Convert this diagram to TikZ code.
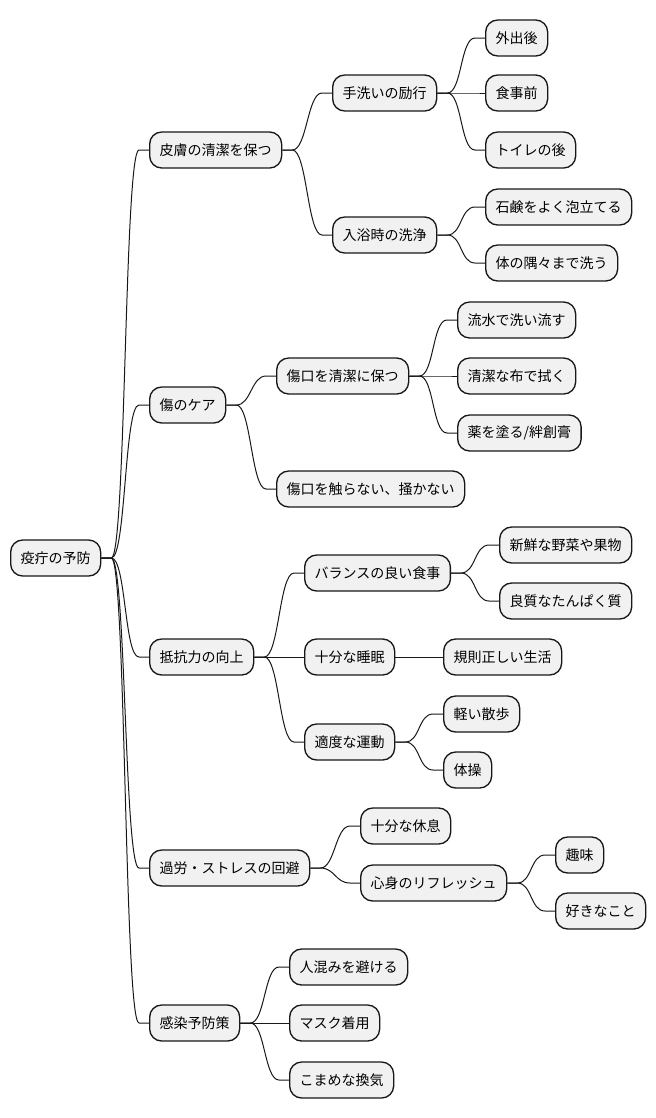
\documentclass[tikz,border=0pt]{standalone}
\usepackage{fontspec}
\setmainfont{Noto Sans CJK JP}
\usepackage{tikz}
\usetikzlibrary{positioning,calc}
\usepackage{xcolor}
\definecolor{boxfill}{RGB}{241,241,241}
\definecolor{boxline}{RGB}{24,24,24}

\begin{document}
\begin{tikzpicture}[x=0.75pt,y=-0.75pt,
  every node/.style={font=\fontsize{10.5pt}{12pt}\selectfont},
  topic/.style={draw=boxline,fill=boxfill,line width=1pt,rounded corners=9pt,
    minimum height=27pt,inner xsep=7.5pt,inner ysep=0pt,anchor=west},
  branch/.style={draw=boxline,line width=0.75pt}]
\useasboundingbox (0,0) rectangle (656,1118);
\node[topic] (root) at (10,558) {疫疔の予防};
% first level
\node[topic] (skin) at (149,150) {皮膚の清潔を保つ};
\node[topic] (wound) at (149,405) {傷のケア};
\node[topic] (resist) at (149,657) {抵抗力の向上};
\node[topic] (stress) at (149,868) {過労・ストレスの回避};
\node[topic] (infect) at (149,1023) {感染予防策};
% second level
\node[topic] (hands) at (332,93) {手洗いの励行};
\node[topic] (bath) at (332,235) {入浴時の洗浄};
\node[topic] (clean) at (276,376) {傷口を清潔に保つ};
\node[topic] (touch) at (276,489) {傷口を触らない、掻かない};
\node[topic] (meal) at (304,573) {バランスの良い食事};
\node[topic] (sleep) at (304,657) {十分な睡眠};
\node[topic] (move) at (304,742) {適度な運動};
\node[topic] (rest) at (360,826) {十分な休息};
\node[topic] (fresh) at (360,883) {心身のリフレッシュ};
\node[topic] (crowd) at (289,967) {人混みを避ける};
\node[topic] (mask) at (289,1023) {マスク着用};
\node[topic] (air) at (289,1080) {こまめな換気};
% third level
\node[topic] (out) at (485,38) {外出後};
\node[topic] (eat) at (485,93) {食事前};
\node[topic] (toilet) at (485,150) {トイレの後};
\node[topic] (soap) at (485,207) {石鹸をよく泡立てる};
\node[topic] (body) at (485,263) {体の隅々まで洗う};
\node[topic] (water) at (457,320) {流水で洗い流す};
\node[topic] (cloth) at (457,376) {清潔な布で拭く};
\node[topic] (drug) at (457,433) {薬を塗る/絆創膏};
\node[topic] (veg) at (499,545) {新鮮な野菜や果物};
\node[topic] (prot) at (499,601) {良質なたんぱく質};
\node[topic] (life) at (443,657) {規則正しい生活};
\node[topic] (walk) at (443,714) {軽い散歩};
\node[topic] (gym) at (443,770) {体操};
\node[topic] (hobby) at (555,855) {趣味};
\node[topic] (like) at (555,911) {好きなこと};

\foreach \p/\c in {root/skin,root/wound,root/resist,root/stress,root/infect,
    skin/hands,skin/bath,wound/clean,wound/touch,
    resist/meal,resist/sleep,resist/move,stress/rest,stress/fresh,
    infect/crowd,infect/mask,infect/air,
    hands/out,hands/eat,hands/toilet,bath/soap,bath/body,
    clean/water,clean/cloth,clean/drug,meal/veg,meal/prot,
    sleep/life,move/walk,move/gym,fresh/hobby,fresh/like}
  \draw[branch] (\p.east) -- ++(7.5pt,0)
    to[out=0,in=180,distance=11pt] ([xshift=-7.5pt]\c.west) -- (\c.west);
\end{tikzpicture}
\end{document}
